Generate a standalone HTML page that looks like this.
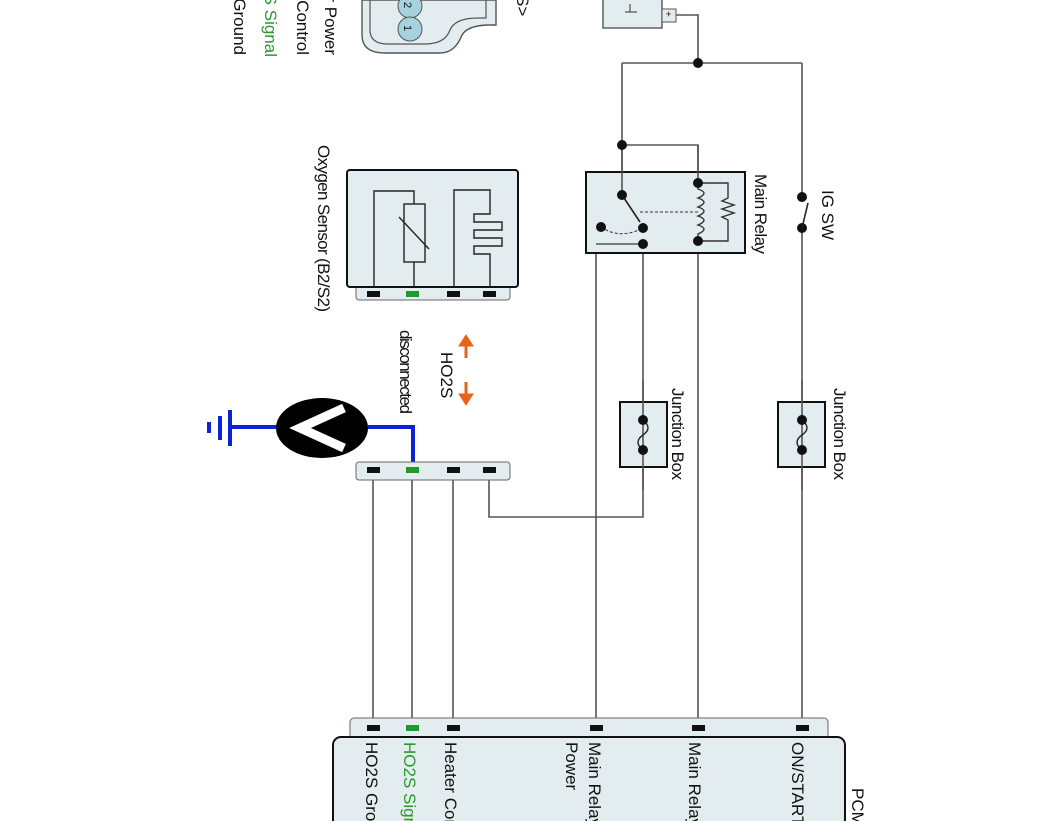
<!DOCTYPE html>
<html><head><meta charset="utf-8"><style>
html,body{margin:0;padding:0;background:#fff;width:1062px;height:821px;overflow:hidden}
svg{display:block}
text{font-family:"Liberation Sans",sans-serif;font-size:17px;fill:#111}
</style></head><body>
<svg width="1062" height="821" viewBox="0 0 1062 821" xmlns="http://www.w3.org/2000/svg">
<g fill="none" stroke="#555" stroke-width="1.6">
<polyline points="676,15 698,15 698,63"/>
<line x1="622" y1="63" x2="802" y2="63"/>
<line x1="622" y1="63" x2="622" y2="195"/>
<polyline points="622,145 698,145 698,183"/>
<line x1="802" y1="63" x2="802" y2="197"/>
<line x1="802" y1="228" x2="802" y2="728"/>
<line x1="698" y1="241" x2="698" y2="728"/>
<polyline points="643,244 596,244 596,728"/>
<polyline points="643,228 643,517 489,517 489,470"/>
<line x1="373" y1="470" x2="373" y2="728"/>
<line x1="412" y1="470" x2="412" y2="728"/>
<line x1="453" y1="470" x2="453" y2="728"/>
</g>
<path d="M362,0 V35 Q362,53 385,53 H440 Q455,53 462,35 Q468,25 490,25 H496 V0 Z" fill="#e3ecee" stroke="#555" stroke-width="1.4"/>
<path d="M370,0 V30 Q370,44 388,44 H425 Q445,44 450,30 Q455,18 478,18 H486 V0" fill="none" stroke="#555" stroke-width="1.2"/>
<circle cx="410" cy="6" r="12" fill="#a6d2df" stroke="#555"/>
<circle cx="410" cy="29" r="12" fill="#a6d2df" stroke="#555"/>
<text transform="translate(404,2) rotate(90)" style="font-size:11px">2</text>
<text transform="translate(404,25) rotate(90)" style="font-size:11px">1</text>
<g text-anchor="end">
<text transform="translate(325,55) rotate(90)">Heater Power</text>
<text transform="translate(297,55) rotate(90)">Heater Control</text>
<text transform="translate(265,57) rotate(90)" style="fill:#2a9a2a">HO2S Signal</text>
<text transform="translate(234,55) rotate(90)">HO2S Ground</text>
</g>
<text transform="translate(517,-5) rotate(90)">S&gt;</text>
<rect x="603" y="-5" width="59" height="33" fill="#e3ecee" stroke="#555" stroke-width="1.4"/>
<rect x="662" y="9" width="14" height="13" fill="#e3ecee" stroke="#555"/>
<text transform="translate(665,11) rotate(90)" style="font-size:10px">+</text>
<line x1="630" y1="4" x2="630" y2="12" stroke="#333"/>
<line x1="625" y1="12" x2="637" y2="12" stroke="#333"/>
<rect x="586" y="172" width="159" height="81" fill="#e3ecee" stroke="#111" stroke-width="2"/>
<line x1="622" y1="145" x2="622" y2="195" stroke="#555" stroke-width="1.6"/>
<polyline points="698,145 698,183" stroke="#555" fill="none" stroke-width="1.6"/>
<line x1="622" y1="195" x2="640" y2="222" stroke="#222" stroke-width="1.6"/>
<line x1="640" y1="212" x2="698" y2="212" stroke="#333" stroke-dasharray="3,2"/>
<path d="M601,227 Q620,240 643,228" fill="none" stroke="#333" stroke-dasharray="3,2"/>
<path d="M698,183 v6 q12,4 0,9 q12,4 0,9 q12,4 0,9 q12,4 0,9 q12,4 0,9 v7" fill="none" stroke="#333" stroke-width="1.4"/>
<polyline points="698,183 728,183 728,198 722,201 734,205 722,209 734,213 722,217 728,220 728,241 698,241" fill="none" stroke="#333" stroke-width="1.4"/>
<line x1="596" y1="244" x2="643" y2="244" stroke="#555" stroke-width="1.6"/>
<g fill="#111">
<circle cx="698" cy="63" r="5"/><circle cx="622" cy="145" r="5"/>
<circle cx="622" cy="195" r="5"/><circle cx="601" cy="227" r="5"/><circle cx="643" cy="228" r="5"/><circle cx="643" cy="244" r="5"/>
<circle cx="698" cy="183" r="5"/><circle cx="698" cy="241" r="5"/>
<circle cx="802" cy="197" r="5"/><circle cx="802" cy="228" r="5"/>
</g>
<line x1="802" y1="228" x2="808" y2="203" stroke="#222" stroke-width="1.6"/>
<text transform="translate(755,174) rotate(90)" textLength="80">Main Relay</text>
<text transform="translate(822,190) rotate(90)">IG SW</text>
<rect x="620" y="402" width="47" height="65" fill="#e3ecee" stroke="#111" stroke-width="2"/>
<rect x="778" y="402" width="47" height="65" fill="#e3ecee" stroke="#111" stroke-width="2"/>
<line x1="643" y1="380" x2="643" y2="490" stroke="#555" stroke-width="1.6"/>
<line x1="802" y1="380" x2="802" y2="490" stroke="#555" stroke-width="1.6"/>
<path d="M643,420 q10,8 0,15 q-10,7 0,15" fill="none" stroke="#222" stroke-width="1.4"/>
<path d="M802,420 q10,8 0,15 q-10,7 0,15" fill="none" stroke="#222" stroke-width="1.4"/>
<g fill="#111"><circle cx="643" cy="420" r="5"/><circle cx="643" cy="450" r="5"/><circle cx="802" cy="420" r="5"/><circle cx="802" cy="450" r="5"/></g>
<text transform="translate(672,388) rotate(90)" textLength="92">Junction Box</text>
<text transform="translate(834,388) rotate(90)" textLength="92">Junction Box</text>
<rect x="356" y="285" width="154" height="15" rx="3" fill="#e3ecee" stroke="#666"/>
<rect x="347" y="170" width="171" height="117" rx="3" fill="#e3ecee" stroke="#111" stroke-width="2"/>
<g fill="none" stroke="#222" stroke-width="1.4">
<polyline points="374,287 374,191 414,191 414,204"/>
<rect x="404" y="204" width="21" height="58"/>
<line x1="414" y1="262" x2="414" y2="287"/>
<line x1="399" y1="217" x2="429" y2="249"/>
<polyline points="454,287 454,190 490,190 490,214 474,214 474,222 502,222 502,230 474,230 474,238 502,238 502,246 474,246 474,254 490,254 490,287"/>
</g>
<g fill="#111"><rect x="367" y="291" width="13" height="6"/><rect x="447" y="291" width="13" height="6"/><rect x="483" y="291" width="13" height="6"/></g>
<rect x="406" y="291" width="13" height="6" fill="#1e9a2e"/>
<text transform="translate(318,145) rotate(90)" textLength="167">Oxygen Sensor (B2/S2)</text>
<text transform="translate(441,352) rotate(90)">HO2S</text>
<text transform="translate(400,330) rotate(90)" textLength="84">disconnected</text>
<g fill="#e8621a" stroke="#e8621a">
<line x1="466" y1="344" x2="466" y2="358" stroke-width="3"/><polygon points="459,346 473,346 466,335"/>
<line x1="466" y1="382" x2="466" y2="396" stroke-width="3"/><polygon points="459,394 473,394 466,405"/>
</g>
<g stroke="#0b22d6" stroke-width="4" fill="none">
<polyline points="368,427 413,427 413,470"/>
<line x1="230" y1="427" x2="278" y2="427"/>
<line x1="230" y1="410" x2="230" y2="446"/>
<line x1="220" y1="416" x2="220" y2="440"/>
<line x1="209" y1="422" x2="209" y2="433"/>
</g>
<ellipse cx="322" cy="428" rx="46" ry="30" fill="#000"/>
<polyline points="344,408 300,428 344,448" fill="none" stroke="#fff" stroke-width="9"/>
<rect x="356" y="462" width="154" height="18" rx="3" fill="#e3ecee" stroke="#666"/>
<g fill="#111"><rect x="367" y="467" width="13" height="6"/><rect x="447" y="467" width="13" height="6"/><rect x="483" y="467" width="13" height="6"/></g>
<rect x="406" y="467" width="13" height="6" fill="#1e9a2e"/>
<rect x="350" y="718" width="478" height="30" rx="4" fill="#e3ecee" stroke="#666"/>
<rect x="333" y="737" width="512" height="110" rx="8" fill="#e3ecee" stroke="#111" stroke-width="2"/>
<g fill="#111"><rect x="367" y="725" width="13" height="6"/><rect x="447" y="725" width="13" height="6"/><rect x="590" y="725" width="13" height="6"/><rect x="692" y="725" width="13" height="6"/><rect x="796" y="725" width="13" height="6"/></g>
<rect x="406" y="725" width="13" height="6" fill="#1e9a2e"/>
<text transform="translate(366,742) rotate(90)">HO2S  Ground</text>
<text transform="translate(404,742) rotate(90)" style="fill:#2a9a2a">HO2S  Signal</text>
<text transform="translate(445,742) rotate(90)">Heater Control</text>
<text transform="translate(589,742) rotate(90)">Main Relay</text>
<text transform="translate(566,742) rotate(90)">Power</text>
<text transform="translate(689,742) rotate(90)">Main Relay</text>
<text transform="translate(792,742) rotate(90)">ON/START</text>
<text transform="translate(852,788) rotate(90)">PCM</text>
</svg>
</body></html>
